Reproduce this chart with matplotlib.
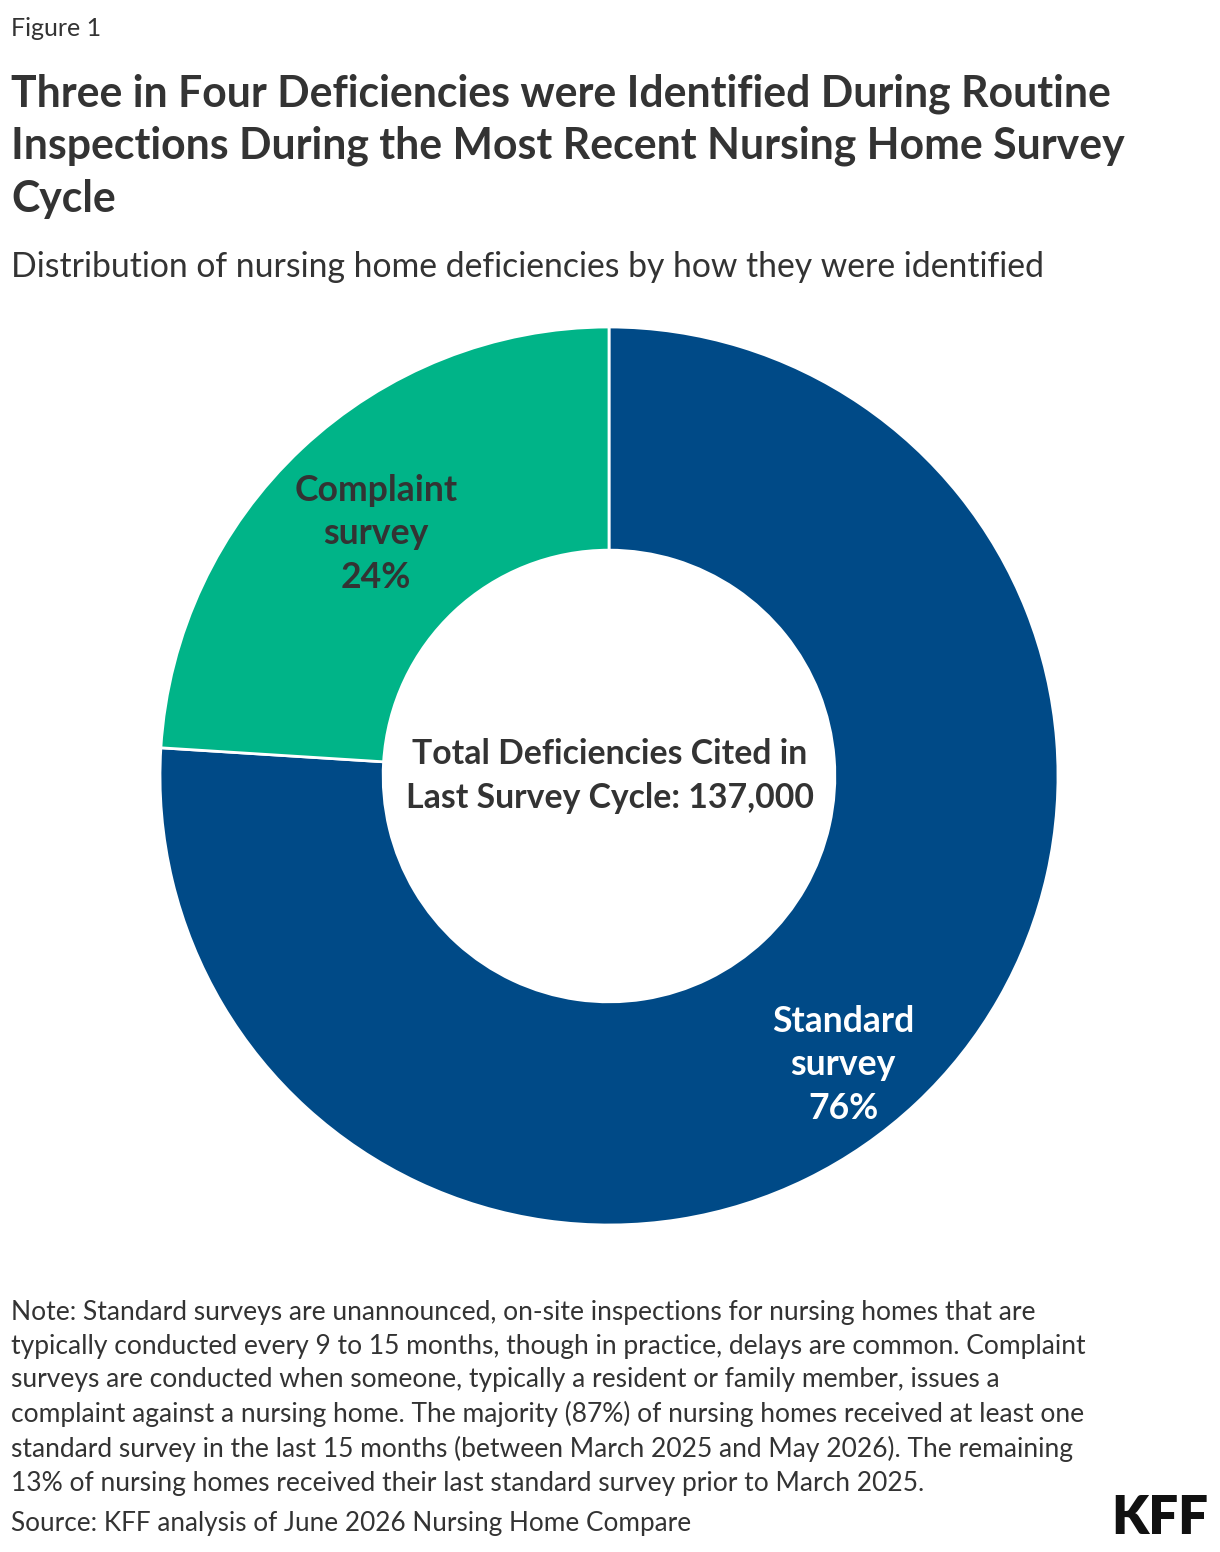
import matplotlib
matplotlib.use("Agg")
import matplotlib.pyplot as plt

categories = ["Standard\nsurvey", "Complaint\nsurvey"]
values = [76, 24]
colors = ["#004A87", "#00B488"]
label_colors = ["white", "#333333"]
center_text = "Total Deficiencies Cited in\nLast Survey Cycle: 137,000"

title = ("Three in Four Deficiencies were Identified During Routine\n"
         "Inspections During the Most Recent Nursing Home Survey\nCycle")
subtitle = "Distribution of nursing home deficiencies by how they were identified"
note = ("Note: Standard surveys are unannounced, on-site inspections for nursing homes that are\n"
        "typically conducted every 9 to 15 months, though in practice, delays are common. Complaint\n"
        "surveys are conducted when someone, typically a resident or family member, issues a\n"
        "complaint against a nursing home. The majority (87%) of nursing homes received at least one\n"
        "standard survey in the last 15 months (between March 2025 and May 2026). The remaining\n"
        "13% of nursing homes received their last standard survey prior to March 2025.")
source = "Source: KFF analysis of June 2026 Nursing Home Compare"

plt.rcParams['font.family'] = ['Lato', 'DejaVu Sans']
TXT = "#333333"
W, H = 1220, 1552
fig = plt.figure(figsize=(W / 100, H / 100), dpi=100)

def fx(px):
    return px / W

def fy(py):
    return 1 - py / H

fig.text(fx(11), fy(28), "Figure 1", fontsize=18, color=TXT, va="center", ha="left")
fig.text(fx(11), fy(146), title, fontsize=30.8, fontweight="bold", color=TXT,
         va="center", ha="left", linespacing=1.37)
fig.text(fx(11), fy(267), subtitle, fontsize=24.3, color=TXT, va="center", ha="left")
fig.text(fx(11), fy(1398), note, fontsize=19, color=TXT, va="center", ha="left", linespacing=1.42)
fig.text(fx(11), fy(1524), source, fontsize=18.8, color=TXT, va="center", ha="left")
fig.text(fx(1208), fy(1519), "KFF", fontsize=38, fontweight="heavy", color="#111111",
         va="center", ha="right")

cx, cy, R = 609, 776, 449
ax = fig.add_axes([fx(cx - R), fy(cy + R), 2 * R / W, 2 * R / H])
wedges, _ = ax.pie(values, colors=colors, startangle=90, counterclock=False,
                   radius=1.0, wedgeprops=dict(width=0.497, edgecolor="white", linewidth=2))
ax.set_xlim(-1, 1)
ax.set_ylim(-1, 1)
ax.set_aspect("equal")
ax.axis("off")

label_pos = [((843 - cx) / R, (cy - 1065) / R), ((376 - cx) / R, (cy - 534) / R)]
for i, (cat, v) in enumerate(zip(categories, values)):
    ax.text(label_pos[i][0], label_pos[i][1], f"{cat}\n{v}%", ha="center", va="center",
            fontsize=25.6, fontweight="bold", color=label_colors[i], linespacing=1.38)

ax.text((610 - cx) / R, (cy - 776) / R, center_text, ha="center", va="center",
        fontsize=24.3, fontweight="bold", color=TXT, linespacing=1.48)

fig.savefig("out.png", dpi=100)
